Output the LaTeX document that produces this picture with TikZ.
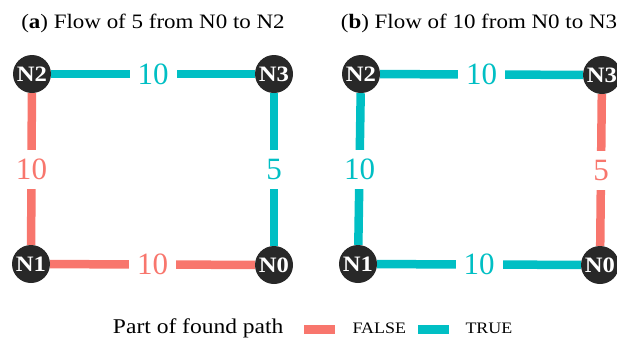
\documentclass[tikz,border=0pt]{standalone}
\usepackage{fontspec}
\setmainfont{Liberation Serif}[FakeStretch=1.12]
\newfontfamily\plainfont{Liberation Serif}
\usetikzlibrary{backgrounds}
\definecolor{fred}{HTML}{F8766D}
\definecolor{tteal}{HTML}{00BFC4}
\definecolor{ndark}{HTML}{282828}
\tikzset{
  nd/.style={circle,fill=ndark,minimum size=38pt,inner sep=0pt,text=white,font=\fontsize{22}{22}\selectfont\bfseries},
  edg/.style={line width=8.5pt},
  efalse/.style={edg,draw=fred},
  etrue/.style={edg,draw=tteal},
  lbl/.style={fill=white,inner sep=0pt,minimum width=47pt,minimum height=39pt,font=\plainfont\fontsize{31}{31}\selectfont},
  ttl/.style={font=\fontsize{20.5}{20.5}\selectfont,anchor=base},
  leg/.style={font=\fontsize{21}{21}\selectfont,anchor=base},
  legs/.style={font=\fontsize{16}{16}\selectfont,anchor=base west},
}
\begin{document}
\begin{tikzpicture}[x=1pt,y=-1pt]
\useasboundingbox (0,0) rectangle (617,341);
% panel a
\node[ttl] (ta) at (153,28) {(\textbf{a}) Flow of 5 from N0 to N2};
\node[nd] (a2) at (32,74) {N2};
\node[nd] (a3) at (274,74) {N3};
\node[nd] (a1) at (31,264) {N1};
\node[nd] (a0) at (274,265) {N0};
% panel b
\node[ttl] (tb) at (479,28) {(\textbf{b}) Flow of 10 from N0 to N3};
\node[nd] (b2) at (361,74) {N2};
\node[nd] (b3) at (602,75) {N3};
\node[nd] (b1) at (358,264) {N1};
\node[nd] (b0) at (600,265) {N0};
\begin{scope}[on background layer]
\draw[etrue] (a2) -- node[lbl,text=tteal] (la23) {10} (a3);
\draw[efalse] (a2) -- node[lbl,text=fred] (la21) {10} (a1);
\draw[etrue] (a3) -- node[lbl,text=tteal] (la30) {5} (a0);
\draw[efalse] (a1) -- node[lbl,text=fred] (la10) {10} (a0);
\draw[etrue] (b2) -- node[lbl,text=tteal] (lb23) {10} (b3);
\draw[etrue] (b2) -- node[lbl,text=tteal] (lb21) {10} (b1);
\draw[efalse] (b3) -- node[lbl,text=fred] (lb30) {5} (b0);
\draw[etrue] (b1) -- node[lbl,text=tteal] (lb10) {10} (b0);
\end{scope}
% legend
\node[leg,anchor=base east] (lt) at (287,333) {Part of found path};
\coordinate (f1) at (304,329);
\coordinate (f2) at (335,329);
\draw[fred,line width=9pt] (f1) -- (f2);
\node[legs] (lf) at (349,333) {FALSE};
\coordinate (t1) at (418,329);
\coordinate (t2) at (449,329);
\draw[tteal,line width=9pt] (t1) -- (t2);
\node[legs] (ltr) at (462,333) {TRUE};
\end{tikzpicture}
\end{document}
